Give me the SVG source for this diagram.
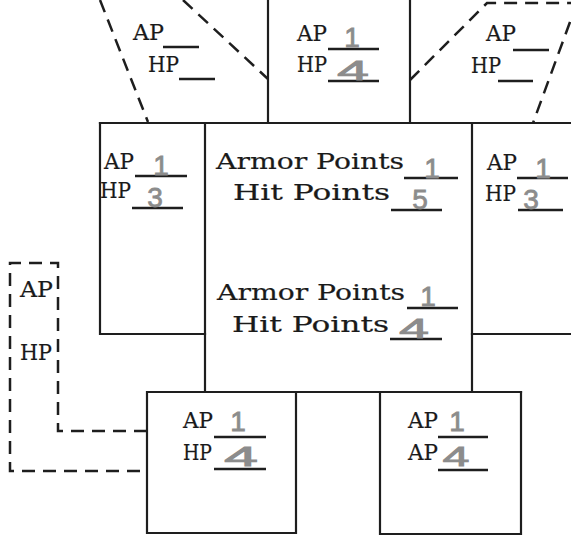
<svg xmlns="http://www.w3.org/2000/svg" width="571" height="541" viewBox="0 0 571 541">
<style>
.bg{fill:#ffffff}
.ln{fill:none;stroke:#1e1e1e;stroke-width:2.2;stroke-linecap:square}
.ds{fill:none;stroke:#1e1e1e;stroke-width:2.5;stroke-dasharray:13 8}
.ul{fill:none;stroke:#1e1e1e;stroke-width:2.6}
.tw{font-family:"DejaVu Serif","Liberation Serif",serif;font-size:23px;fill:#1a1a1a;stroke:#1a1a1a;stroke-width:0.2}
.pn{font-family:"Liberation Sans","DejaVu Sans",sans-serif;font-size:28px;fill:#8c8c8c;stroke:#8c8c8c;stroke-width:0.8;text-anchor:middle}
</style>
<rect class="bg" x="0" y="0" width="571" height="541"/>

<g id="head">
<path class="ln" d="M268,0 V123 M410,0 V123"/>
<text class="tw" x="297" y="41" textLength="30" lengthAdjust="spacingAndGlyphs">AP</text>
<text class="tw" x="297" y="72" textLength="30" lengthAdjust="spacingAndGlyphs">HP</text>
<path class="ul" d="M328,49 H379 M328,81 H379"/>
<text class="pn" x="352" y="47">1</text>
<text class="pn" x="353" y="80" textLength="32" lengthAdjust="spacingAndGlyphs">4</text>
</g>

<g id="left-shoulder-optional">
<path class="ds" d="M100,0 L148,122 M183,0 L268,79"/>
<text class="tw" x="133" y="40" textLength="31" lengthAdjust="spacingAndGlyphs">AP</text>
<text class="tw" x="148" y="72" textLength="31" lengthAdjust="spacingAndGlyphs">HP</text>
<path class="ul" d="M163,47 H199 M179,79 H215"/>
</g>

<g id="right-shoulder-optional">
<path class="ds" d="M410,80 L487,3 H571 M570,22 L533,123"/>
<text class="tw" x="486" y="41" textLength="30" lengthAdjust="spacingAndGlyphs">AP</text>
<text class="tw" x="471" y="73" textLength="30" lengthAdjust="spacingAndGlyphs">HP</text>
<path class="ul" d="M513,50 H549 M498,81 H533"/>
</g>

<g id="torso">
<path class="ln" d="M100,123 H571 M205,123 V391 M472,123 V391"/>
<text class="tw" x="216" y="169" textLength="188" lengthAdjust="spacingAndGlyphs">Armor Points</text>
<text class="tw" x="233" y="200" textLength="157" lengthAdjust="spacingAndGlyphs">Hit Points</text>
<path class="ul" d="M404,178 H458 M391,210 H442"/>
<text class="pn" x="432" y="178">1</text>
<text class="pn" x="420" y="209">5</text>
<text class="tw" x="217" y="300" textLength="188" lengthAdjust="spacingAndGlyphs">Armor Points</text>
<text class="tw" x="232" y="332" textLength="157" lengthAdjust="spacingAndGlyphs">Hit Points</text>
<path class="ul" d="M407,308 H458 M390,339 H442"/>
<text class="pn" x="428" y="306">1</text>
<text class="pn" x="414" y="338" textLength="30" lengthAdjust="spacingAndGlyphs">4</text>
</g>

<g id="left-arm">
<path class="ln" d="M100,123 V334 H205"/>
<text class="tw" x="104" y="169" textLength="30" lengthAdjust="spacingAndGlyphs">AP</text>
<text class="tw" x="100" y="198" textLength="31" lengthAdjust="spacingAndGlyphs">HP</text>
<path class="ul" d="M135,176 H187 M132,208 H183"/>
<text class="pn" x="161" y="175">1</text>
<text class="pn" x="155" y="207">3</text>
</g>

<g id="right-arm">
<path class="ln" d="M472,334 H571"/>
<text class="tw" x="487" y="170" textLength="30" lengthAdjust="spacingAndGlyphs">AP</text>
<text class="tw" x="485" y="201" textLength="31" lengthAdjust="spacingAndGlyphs">HP</text>
<path class="ul" d="M517,178 H568 M518,210 H563"/>
<text class="pn" x="543" y="178">1</text>
<text class="pn" x="531" y="209">3</text>
</g>

<g id="left-leg">
<path class="ln" d="M147,392 H521 M147,392 V533 H296 V392"/>
<text class="tw" x="183" y="428" textLength="30" lengthAdjust="spacingAndGlyphs">AP</text>
<text class="tw" x="183" y="460" textLength="29" lengthAdjust="spacingAndGlyphs">HP</text>
<path class="ul" d="M214,437 H266 M214,469 H266"/>
<text class="pn" x="238" y="431">1</text>
<text class="pn" x="241" y="466" textLength="34" lengthAdjust="spacingAndGlyphs">4</text>
</g>

<g id="right-leg">
<path class="ln" d="M380,392 V534 H521 V392"/>
<text class="tw" x="408" y="428" textLength="30" lengthAdjust="spacingAndGlyphs">AP</text>
<text class="tw" x="408" y="460" textLength="30" lengthAdjust="spacingAndGlyphs">AP</text>
<path class="ul" d="M438,437 H488 M438,470 H488"/>
<text class="pn" x="457" y="431">1</text>
<text class="pn" x="456" y="466" textLength="27" lengthAdjust="spacingAndGlyphs">4</text>
</g>

<g id="tail-optional">
<path class="ds" d="M147,431 H58 V263 H10 V471 H147"/>
<text class="tw" x="20" y="297" textLength="33" lengthAdjust="spacingAndGlyphs">AP</text>
<text class="tw" x="20" y="360" textLength="32" lengthAdjust="spacingAndGlyphs">HP</text>
</g>

<g id="connectors"></g>
</svg>
